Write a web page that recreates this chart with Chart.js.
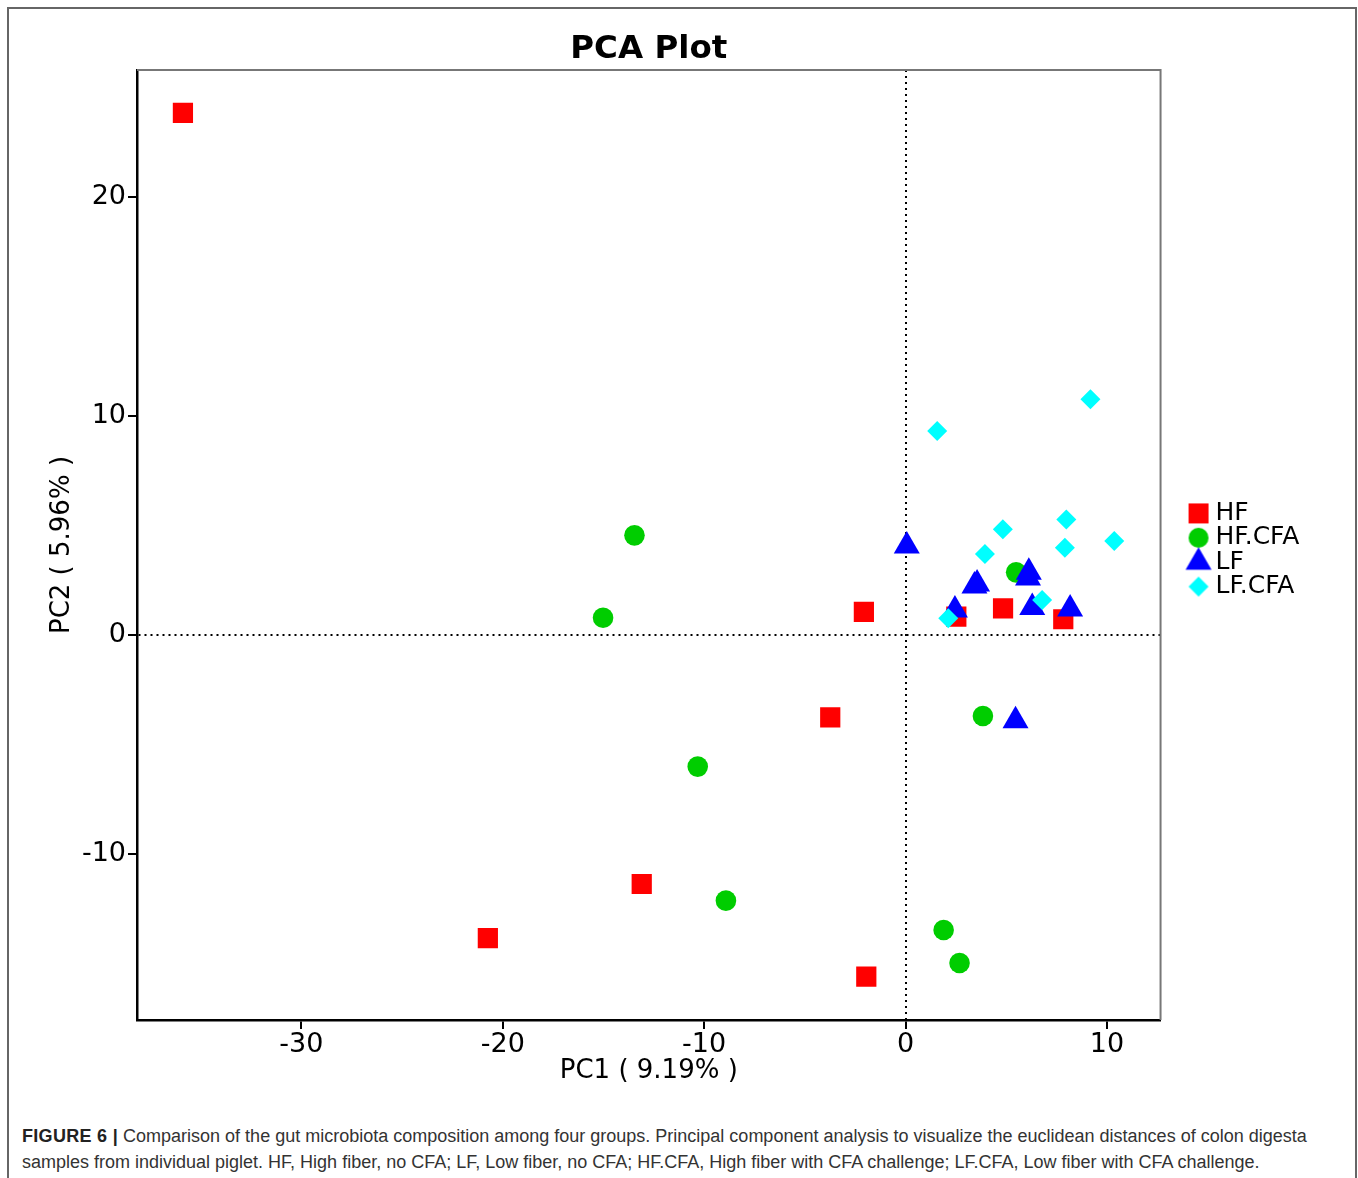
<!DOCTYPE html>
<html>
<head>
<meta charset="utf-8">
<script src="https://cdn.jsdelivr.net/npm/chart.js@4.4.0/dist/chart.umd.min.js"></script>
<style>
  html, body { margin: 0; padding: 0; background: #fff; overflow: hidden; }
  body { width: 1358px; height: 1178px; position: relative; }
  #frame { position: absolute; left: 7px; top: 7px; width: 1350px; height: 1300px; border: 2px solid #666; box-sizing: border-box; }
  #plot { position: absolute; left: 0; top: 0; }
  #caption { position: absolute; left: 22px; top: 1123px; font: 18px/26px "Liberation Sans", Arial, sans-serif; color: #333; white-space: nowrap; }
  #caption b { color: #222; letter-spacing: 0.3px; }
</style>
</head>
<body>
<div id="frame"></div>
<canvas id="plot" width="1358" height="1100"></canvas>
<div id="caption"><b>FIGURE 6 |</b> Comparison of the gut microbiota composition among four groups. Principal component analysis to visualize the euclidean distances of colon digesta<br>samples from individual piglet. HF, High fiber, no CFA; LF, Low fiber, no CFA; HF.CFA, High fiber with CFA challenge; LF.CFA, Low fiber with CFA challenge.</div>
<script>
// valores (PC1, PC2) por grupo
const groups = ["HF", "HF.CFA", "LF", "LF.CFA"];
const hfX = [-35.88, -2.07, -3.74, -13.10, -20.74, -1.95, 2.52, 4.84, 7.83];
const hfY = [23.84, 1.06, -3.76, -11.37, -13.84, -15.60, 0.84, 1.22, 0.72];
const hfcfaX = [-13.46, -15.02, -10.32, -8.92, 3.84, 1.89, 2.68, 5.49];
const hfcfaY = [4.55, 0.79, -6.01, -12.13, -3.70, -13.47, -14.98, 2.86];
const lfX = [0.06, 3.42, 3.55, 6.12, 6.08, 2.45, 6.29, 8.17, 5.46];
const lfY = [4.06, 2.24, 2.33, 2.86, 2.60, 1.14, 1.26, 1.19, -3.91];
const lfcfaX = [9.18, 1.57, 7.98, 4.83, 7.91, 10.36, 3.94, 6.78, 2.12];
const lfcfaY = [10.76, 9.32, 5.28, 4.83, 3.99, 4.29, 3.70, 1.60, 0.76];

const xTicks = [-30, -20, -10, 0, 10];
const yTicks = [-10, 0, 10, 20];
const xTitle = "PC1 ( 9.19% )";
const yTitle = "PC2 ( 5.96% )";
const chartTitle = "PCA Plot";

const font = "'DejaVu Sans', sans-serif";

function series(label, xs, ys, style, radius, color, order) {
  return {
    label: label,
    data: xs.map((x, i) => ({ x: x, y: ys[i] })),
    pointStyle: style,
    pointRadius: radius,
    pointHoverRadius: radius,
    backgroundColor: color,
    borderColor: color,
    pointBorderWidth: 0,
    order: order,
    yAxisID: "y"
  };
}

const datasets = [
  series(groups[0], hfX, hfY, "rect", 14.3, "#ff0000", 4),
  series(groups[1], hfcfaX, hfcfaY, "circle", 10.3, "#00cd00", 3),
  series(groups[2], lfX, lfY, "triangle", 15, "#0000ff", 2),
  series(groups[3], lfcfaX, lfcfaY, "rectRot", 10, "#00ffff", 1)
];

// marcadores de la leyenda a tamaño real (desplazados 5px a la derecha del centro)
function legendMarker(style, color) {
  const c = document.createElement("canvas");
  c.width = 40; c.height = 32;
  const g = c.getContext("2d");
  const cx = 25, cy = 16;
  g.fillStyle = color;
  g.beginPath();
  if (style === "rect") g.rect(cx - 10, cy - 10, 20, 20);
  else if (style === "circle") g.arc(cx, cy, 10, 0, Math.PI * 2);
  else if (style === "triangle") { g.moveTo(cx, cy - 15); g.lineTo(cx + 13, cy + 7.5); g.lineTo(cx - 13, cy + 7.5); g.closePath(); }
  else { g.moveTo(cx, cy - 10); g.lineTo(cx + 10, cy); g.lineTo(cx, cy + 10); g.lineTo(cx - 10, cy); g.closePath(); }
  g.fill();
  return c;
}

// bordes superior y derecho del panel
const boxLines = {
  id: "boxLines",
  afterDraw(chart) {
    const a = chart.chartArea, ctx = chart.ctx;
    ctx.save();
    ctx.strokeStyle = "#777";
    ctx.lineWidth = 2;
    ctx.beginPath();
    ctx.moveTo(a.left, a.top);
    ctx.lineTo(a.right, a.top);
    ctx.lineTo(a.right, a.bottom);
    ctx.stroke();
    ctx.restore();
  }
};

const zeroLine = c => (c.tick && c.tick.value === 0 ? 2 : 0);

new Chart(document.getElementById("plot"), {
  type: "scatter",
  data: { datasets: datasets },
  plugins: [boxLines],
  options: {
    responsive: false,
    animation: false,
    events: [],
    layout: { padding: { top: 0, right: 48.7, bottom: 0, left: 0 } },
    scales: {
      x: {
        type: "linear",
        min: -38.16,
        max: 12.66,
        afterBuildTicks: s => { s.ticks = xTicks.map(v => ({ value: v })); },
        afterFit: s => { s.height = 80; },
        ticks: { font: { family: font, size: 27 }, color: "#000", padding: 0, maxRotation: 0, autoSkip: false, callback: v => String(v) },
        grid: { lineWidth: zeroLine, color: "#000", tickColor: "#000", tickWidth: 2, tickLength: 9 },
        border: { display: true, color: "#000", width: 2.5, dash: [2, 4] },
        title: { display: true, text: xTitle, font: { family: font, size: 26 }, color: "#000", padding: { top: 0, bottom: 13 } }
      },
      y: {
        type: "linear",
        min: -17.58,
        max: 25.80,
        afterBuildTicks: s => { s.ticks = yTicks.map(v => ({ value: v })); },
        afterFit: s => { s.width = 137; },
        ticks: { font: { family: font, size: 27 }, color: "#000", padding: 2, autoSkip: false, callback: v => String(v) },
        grid: { lineWidth: zeroLine, color: "#000", tickColor: "#000", tickWidth: 2, tickLength: 9 },
        border: { display: true, color: "#000", width: 2.5, dash: [2, 4] },
        title: { display: true, text: yTitle, font: { family: font, size: 26 }, color: "#000", padding: { top: 47, bottom: 0 } }
      },
      y2: {
        type: "linear",
        position: "right",
        display: true,
        afterFit: s => { s.width = 24.1; },
        ticks: { display: false },
        grid: { display: false },
        border: { display: false }
      }
    },
    plugins: {
      tooltip: { enabled: false },
      title: {
        display: true,
        text: chartTitle,
        fullSize: false,
        color: "#000",
        font: { family: font, size: 32.5, weight: "bold" },
        padding: { top: 30, bottom: 1 }
      },
      legend: {
        display: true,
        position: "right",
        align: "center",
        labels: {
          usePointStyle: true,
          boxWidth: 19,
          boxHeight: 10,
          padding: -0.6,
          color: "#000",
          font: { family: font, size: 25 },
          generateLabels: chart => chart.data.datasets.map((ds, i) => ({
            text: ds.label,
            fillStyle: ds.backgroundColor,
            strokeStyle: ds.backgroundColor,
            lineWidth: 0,
            pointStyle: legendMarker(ds.pointStyle, ds.backgroundColor),
            hidden: !chart.isDatasetVisible(i),
            datasetIndex: i,
            fontColor: "#000"
          }))
        }
      }
    }
  }
});
</script>
</body>
</html>
